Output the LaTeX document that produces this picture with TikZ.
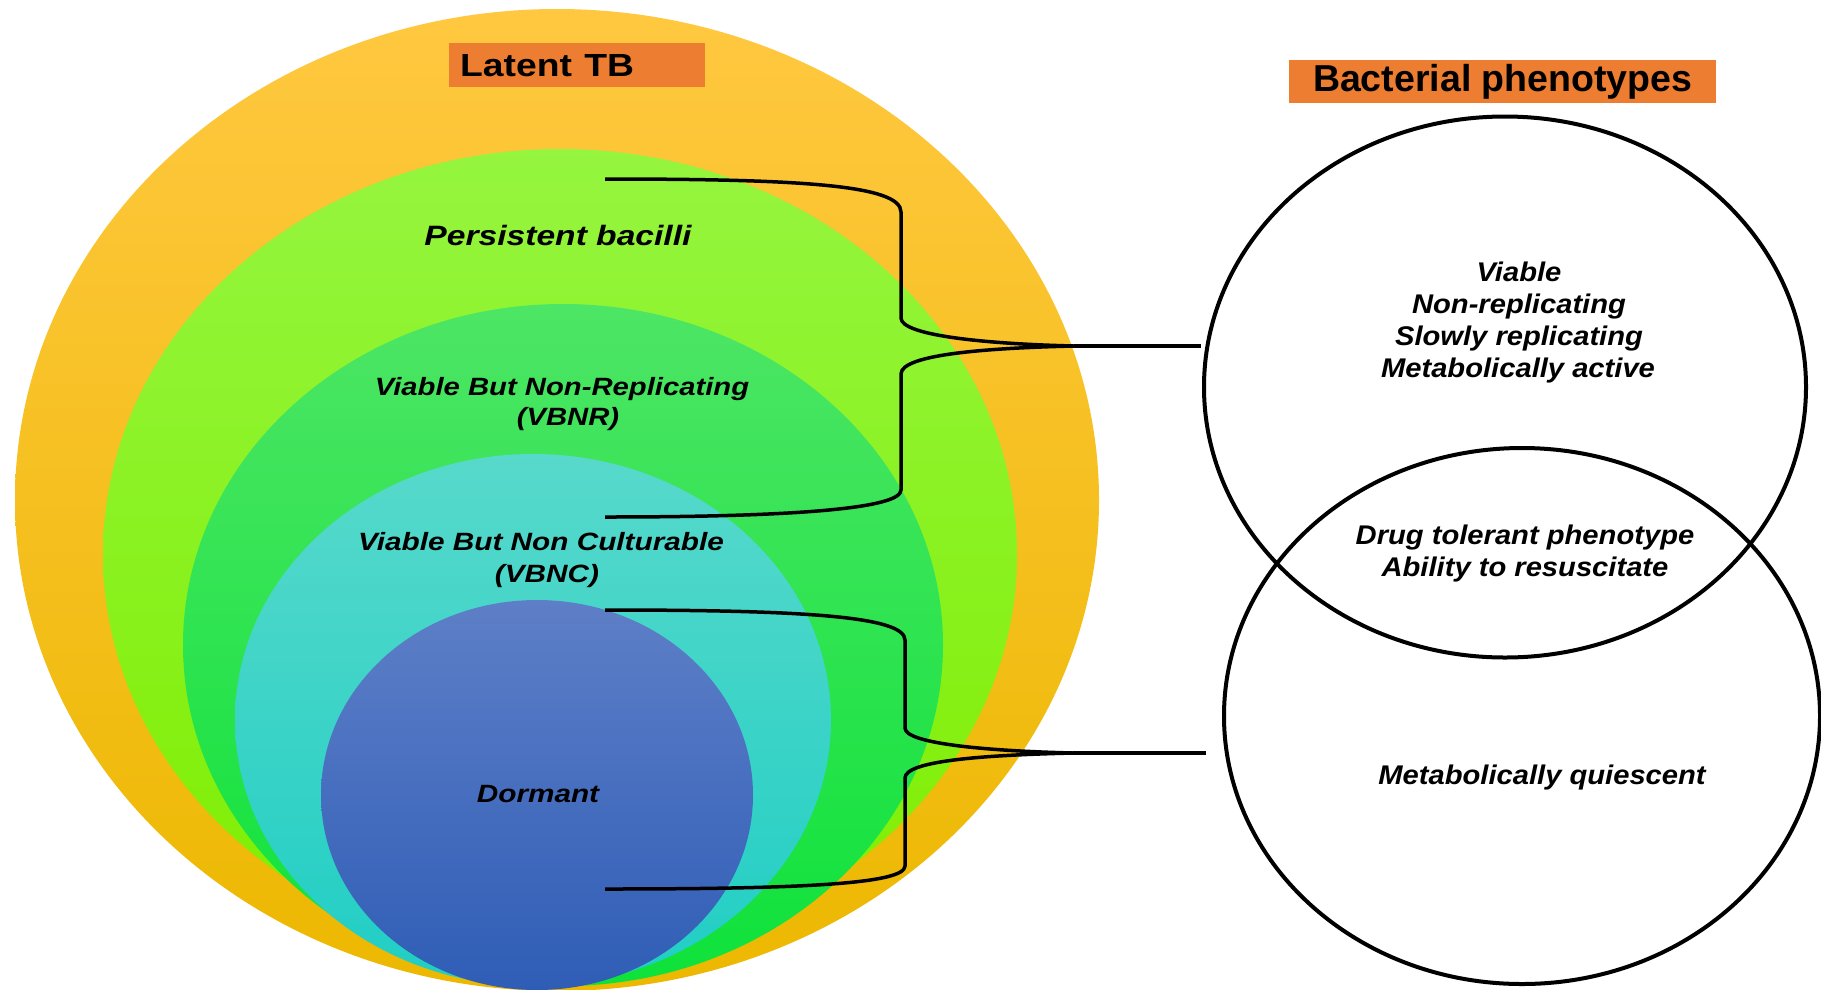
\documentclass[tikz,border=0pt]{standalone}
\usepackage{fontspec}
\setmainfont{Liberation Sans}
\usetikzlibrary{shapes.geometric}
\definecolor{orA}{RGB}{255,200,64}
\definecolor{orB}{RGB}{255,192,0}
\definecolor{orC}{RGB}{236,184,0}
\definecolor{lgA}{RGB}{149,245,63}
\definecolor{lgB}{RGB}{136,247,15}
\definecolor{lgC}{RGB}{127,238,0}
\definecolor{gnA}{RGB}{77,229,101}
\definecolor{gnB}{RGB}{40,234,72}
\definecolor{gnC}{RGB}{14,226,58}
\definecolor{cyA}{RGB}{87,217,203}
\definecolor{cyB}{RGB}{51,218,204}
\definecolor{cyC}{RGB}{32,206,196}
\definecolor{blA}{RGB}{94,127,199}
\definecolor{blB}{RGB}{68,114,200}
\definecolor{blC}{RGB}{47,93,182}
\definecolor{hdrorange}{RGB}{237,125,49}
\newcommand\hs[2]{\scalebox{#1}[1]{#2}}
\begin{document}
\begin{tikzpicture}[x=1pt,y=-1pt,
  blob/.style={ellipse, inner sep=0pt, draw=none},
  ring/.style={ellipse, inner sep=0pt, draw=black, line width=4pt},
  hdr/.style={fill=hdrorange, inner ysep=0pt, font=\fontsize{#1}{#1}\selectfont\bfseries},
  lbl/.style={anchor=base, inner sep=0pt, font=\fontsize{25}{30}\selectfont\bfseries\itshape},
  rt/.style={anchor=base, inner sep=0pt, font=\fontsize{27}{32}\selectfont\bfseries\itshape},
  brace/.style={line width=3.5pt, line join=round, line cap=butt}]
\useasboundingbox (0,0) rectangle (1821,989);
\fill[white] (0,0) rectangle (1821,989);

% nested ellipses
\node[blob, top color=orA, middle color=orB, bottom color=orC, minimum width=1084, minimum height=982] (latent) at (557,500) {};
\node[blob, top color=lgA, middle color=lgB, bottom color=lgC, minimum width=914, minimum height=810] (persist) at (560,554) {};
\node[blob, top color=gnA, middle color=gnB, bottom color=gnC, minimum width=760, minimum height=682] (vbnr) at (563,645) {};
\node[blob, top color=cyA, middle color=cyB, bottom color=cyC, minimum width=596, minimum height=532] (vbnc) at (533,720) {};
\node[blob, top color=blA, middle color=blB, bottom color=blC, minimum width=432, minimum height=390] (dormant) at (537,795) {};

% headers
\node[hdr=32, minimum height=44, text width=234, inner xsep=11pt, align=left, anchor=north west] (lthdr) at (449,43) {\hs{1.165}{Latent TB}};
\node[hdr=37.5, minimum width=427, minimum height=43, inner xsep=0pt, anchor=north west] (bphdr) at (1289,60) {Bacterial phenotypes};

% left labels
\node[lbl, font=\fontsize{28}{32}\selectfont\bfseries\itshape] (tpb) at (558,245) {\hs{1.2}{Persistent bacilli}};
\node[lbl] (tvbnr1) at (562,395) {\hs{1.17}{Viable But Non-Replicating}};
\node[lbl] (tvbnr2) at (568,425) {\hs{1.17}{(VBNR)}};
\node[lbl] (tvbnc1) at (541,550) {\hs{1.19}{Viable But Non Culturable}};
\node[lbl] (tvbnc2) at (547,582) {\hs{1.19}{(VBNC)}};
\node[lbl] (tdorm) at (538,802) {\hs{1.19}{Dormant}};

% right circles
\node[ring, minimum width=602, minimum height=541] (c1) at (1505,387) {};
\node[ring, minimum width=596, minimum height=536] (c2) at (1522,716) {};

% right texts
\node[rt] (r1) at (1519,281) {\hs{1.08}{Viable}};
\node[rt] (r2) at (1519,313) {\hs{1.08}{Non-replicating}};
\node[rt] (r3) at (1519,345) {\hs{1.08}{Slowly replicating}};
\node[rt] (r4) at (1518,377) {\hs{1.08}{Metabolically active}};
\node[rt] (r5) at (1525,544) {\hs{1.08}{Drug tolerant phenotype}};
\node[rt] (r6) at (1525,576) {\hs{1.08}{Ability to resuscitate}};
\node[rt] (r7) at (1542,784) {\hs{1.08}{Metabolically quiescent}};

% braces
\coordinate (b1s) at (605,179);
\coordinate (b1t) at (1074,346);
\coordinate (b1e) at (605,517);
\coordinate (p1) at (1201,346);
\coordinate (b2s) at (605,610);
\coordinate (b2t) at (1073,753);
\coordinate (b2e) at (605,889);
\coordinate (p2) at (1206,753);

\draw[brace] (b1s) .. controls (800,179) and (901,185) .. (901,212) -- (901,318)
  .. controls (901,336) and (990,344) .. (b1t)
  .. controls (990,348) and (901,354) .. (901,374) -- (901,490)
  .. controls (901,508) and (800,517) .. (b1e);
\draw[brace] (b1t) -- (p1);

\draw[brace] (b2s) .. controls (800,610) and (905,616) .. (905,640) -- (905,728)
  .. controls (905,744) and (990,751) .. (b2t)
  .. controls (990,755) and (905,760) .. (905,778) -- (905,866)
  .. controls (905,884) and (800,889) .. (b2e);
\draw[brace] (b2t) -- (p2);
\end{tikzpicture}
\end{document}
